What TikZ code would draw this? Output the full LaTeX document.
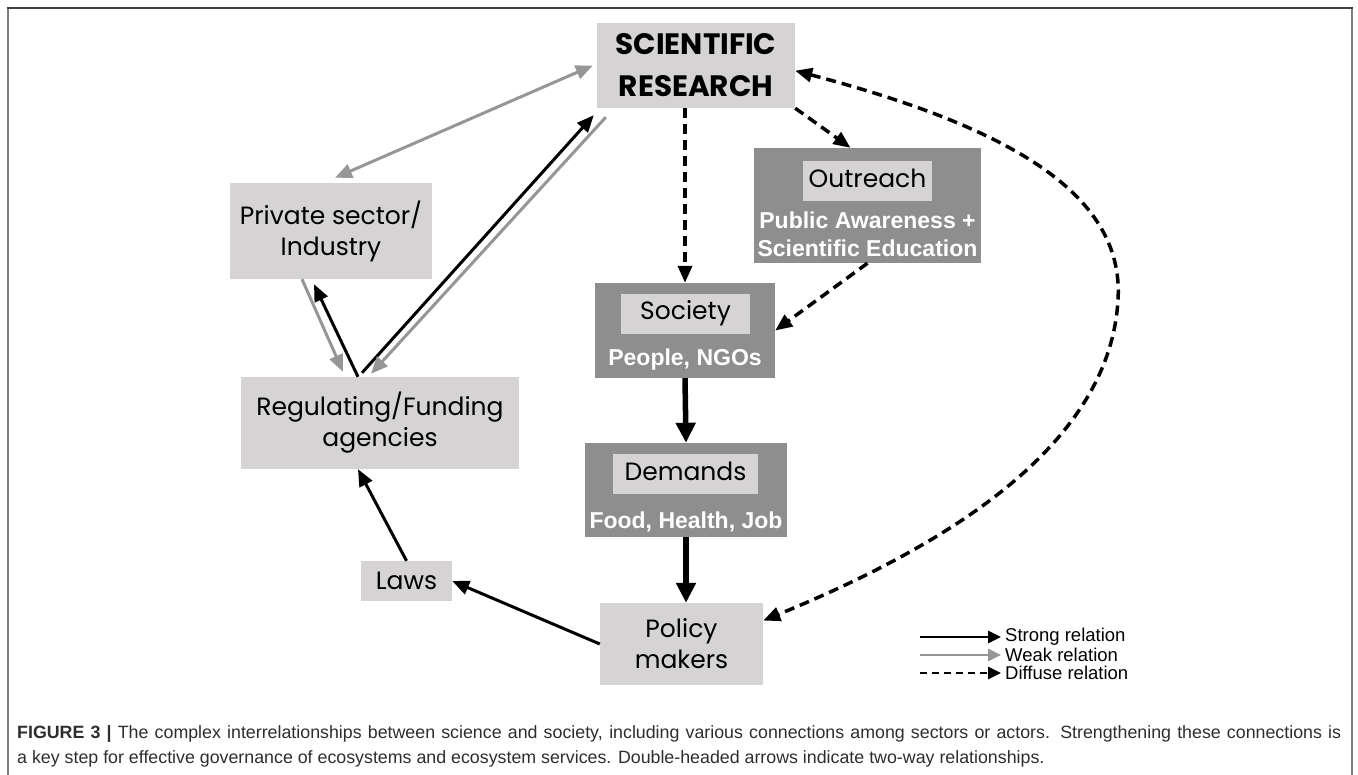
\documentclass[tikz,border=0pt]{standalone}
\usepackage{fontspec}
\newfontfamily\gothic{Poppins}
\newfontfamily\arialf{Liberation Sans}
\usetikzlibrary{positioning,arrows.meta,calc}
\definecolor{boxlight}{RGB}{213,211,211}
\definecolor{boxdark}{RGB}{142,142,142}
\definecolor{weakgray}{RGB}{150,150,150}
\definecolor{framegray}{RGB}{125,125,125}
\definecolor{captext}{RGB}{45,45,45}
\tikzset{
  lbox/.style={fill=boxlight, inner sep=0pt, align=center, font=\gothic\fontsize{25}{31}\selectfont},
  dbox/.style={fill=boxdark, inner sep=0pt},
  ttl/.style={fill=boxlight, inner sep=0pt, minimum height=40, text height=18, text depth=6, font=\gothic\fontsize{25}{30}\selectfont},
  sub/.style={text=white, inner sep=0pt, align=center, font=\arialf\bfseries\fontsize{23}{28}\selectfont},
  legtext/.style={anchor=west, inner sep=0pt, font=\arialf\fontsize{18.5}{20}\selectfont},
  strong/.style={draw=black, line width=3pt, ->},
  bigstrong/.style={draw=black, line width=5.5pt, -{Triangle[length=20pt,width=19pt]}},
  weak/.style={draw=weakgray, line width=3pt, ->},
  diffuse/.style={draw=black, line width=3.5pt, dash pattern=on 10pt off 6pt, ->}
}
\begin{document}
\begin{tikzpicture}[x=1pt, y=-1pt, >={Triangle[length=17pt,width=14pt]}]
\useasboundingbox (0,0) rectangle (1358,775);
% frame
\draw[framegray, line width=2pt] (7.5,775) -- (7.5,8);
\draw[framegray, line width=2pt] (1352,8) -- (1352,775);
\draw[black!75, line width=2pt] (6.5,8) -- (1353,8);

% light boxes
\node[lbox, minimum width=198, minimum height=85, font=\gothic\bfseries\fontsize{29.5}{42}\selectfont] (sci) at (696,65.5) {SCIENTIFIC\\RESEARCH};
\node[lbox, minimum width=202, minimum height=96] (priv) at (331,231) {Private sector/\\Industry};
\node[lbox, minimum width=278, minimum height=92] (reg) at (380,423) {Regulating/Funding\\agencies};
\node[lbox, minimum width=91, minimum height=40] (laws) at (406.5,581) {Laws};
\node[lbox, minimum width=163, minimum height=82] (pol) at (681.5,644) {Policy\\makers};

% dark boxes
\node[dbox, minimum width=227, minimum height=115] (out) at (867.5,205.5) {};
\node[ttl, minimum width=129] (outT) at (867.5,181.5) {Outreach};
\node[sub] (outS) at (867.5,234) {Public Awareness +\\Scientific Education};

\node[dbox, minimum width=180, minimum height=95] (soc) at (685,330.5) {};
\node[ttl, minimum width=129] (socT) at (685.5,314) {Society};
\node[sub] (socS) at (685,360) {People, NGOs};

\node[dbox, minimum width=202, minimum height=94] (dem) at (686,490) {};
\node[ttl, minimum width=145] (demT) at (685.5,474) {Demands};
\node[sub] (demS) at (686,522) {Food, Health, Job};

% diffuse
\draw[diffuse] (soc.north |- sci.south) -- (soc.north);
\draw[diffuse] (sci.south east) -- ([xshift=-17]out.north);
\draw[diffuse] (out.south) -- (soc.east);
\draw[diffuse, <->] (sci.-3) .. controls (1000,125) and (1125,190) .. (1118,300)
  .. controls (1110,440) and (960,540) .. (pol.16);

% strong
\draw[bigstrong] (soc.south) -- (dem.north);
\draw[bigstrong] (dem.south) -- (dem.south |- pol.north);
\draw[strong] (pol.west) -- (laws.east);
\draw[strong] (laws.north) -- ([xshift=-22]reg.south);
\draw[strong] ([xshift=-22]reg.north) -- ([xshift=-17,yshift=-5]priv.south);
\draw[strong] ([xshift=-18,yshift=4]reg.north) -- ([xshift=-3,yshift=-7]sci.south west);

% weak
\draw[weak] ([xshift=-29]priv.south) -- ([xshift=-37,yshift=5]reg.north);
\draw[weak] ([xshift=9,yshift=-9]sci.south west) -- ([xshift=-9,yshift=3]reg.north);
\draw[weak, <->] ([xshift=4,yshift=5]priv.north) -- ([xshift=-4]sci.west);

% legend
\node[legtext] (lgS) at (1005,637) {Strong relation};
\node[legtext] (lgW) at (1005,655) {Weak relation};
\node[legtext] (lgD) at (1005,673) {Diffuse relation};
\coordinate (cS) at (920,637);
\coordinate (cW) at (920,655);
\coordinate (cD) at (920,673);
\begin{scope}[>={Triangle[length=13pt,width=12pt]}]
\draw[strong, line width=2.5pt] (cS) -- ([xshift=-4]lgS.west);
\draw[weak, line width=2.5pt] (cW) -- ([xshift=-4]lgW.west);
\draw[diffuse, line width=2.5pt, dash pattern=on 7pt off 5pt] (cD) -- ([xshift=-4]lgD.west);
\end{scope}

% caption
\node[anchor=north west, text width=1324, align=justify, inner sep=0pt, text=captext,
  font=\arialf\fontsize{17.8}{25}\selectfont] (cap) at (17,725)
  {\textbf{FIGURE 3 |} The complex interrelationships between science and society, including various connections among sectors or actors. Strengthening these connections is\linebreak a key step for effective governance of ecosystems and ecosystem services. Double-headed arrows indicate two-way relationships.};
\end{tikzpicture}
\end{document}
